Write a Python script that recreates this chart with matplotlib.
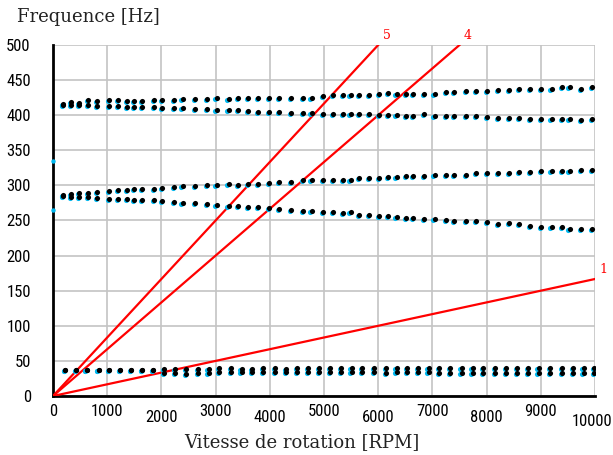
import matplotlib
matplotlib.use("Agg")
from matplotlib import pyplot as plt
from matplotlib import transforms
from matplotlib import font_manager

# shaft speed of each measured point [RPM]
rpm_high = [190, 330, 480, 650, 820, 1040, 1200, 1360, 1500, 1650,
            1870, 2020, 2230, 2390, 2620, 2840, 3020, 3240, 3420, 3600,
            3790, 3980, 4170, 4400, 4620, 4770, 4980, 5170, 5350, 5490,
            5650, 5830, 6020, 6190, 6340, 6510, 6650, 6850, 7040, 7260,
            7400, 7620, 7800, 8010, 8210, 8420, 8600, 8800, 9000, 9200,
            9390, 9530, 9740, 9950]

rpm_low = [220, 420, 620, 840, 1040, 1240, 1440, 1650, 1850, 2050,
           2250, 2450, 2670, 2870, 3070, 3280, 3480, 3680, 3880, 4100,
           4300, 4500, 4710, 4910, 5110, 5310, 5510, 5710, 5920, 6140,
           6340, 6540, 6740, 6930, 7130, 7330, 7540, 7740, 7940, 8160,
           8360, 8560, 8770, 8960, 9170, 9390, 9600, 9790, 9990]

# natural frequencies [Hz]
top_up = [415.5, 419, 417, 421.5, 420.5, 421.5, 421.5, 420.5, 420.5, 420.5,
          421.5, 421.5, 421.5, 422.5, 422.5, 422.5, 424, 422.5, 424, 424,
          424, 424, 425, 425, 425, 425, 427, 429, 429, 429,
          429, 429, 430, 431, 430, 430, 430, 430, 430, 433,
          433, 435, 435, 435, 436, 436, 437, 437, 437, 437,
          440, 440, 438, 440]

top_down = [414, 415, 414, 415, 413, 413, 413, 412, 411, 411,
            411, 410, 410, 410, 409, 409, 408, 407, 407, 406,
            405, 405, 404, 403, 403, 403, 402, 401, 401, 401,
            401, 401, 400, 400, 400, 399, 399, 401, 399, 399,
            399, 399, 399, 397, 396.5, 396.5, 396.5, 395, 395, 395,
            395, 395, 393, 395]

mid_up = [286, 288, 289, 289, 291, 291.5, 293, 294, 294.5, 295,
          295, 296, 298, 298.5, 298.5, 300, 300, 301.5, 300, 301.5,
          302, 303, 304.5, 305, 307, 307, 307, 308, 308, 308,
          310, 310, 311, 311.5, 312, 314, 314, 314, 315, 315,
          315, 315.5, 317, 317, 317, 317.5, 318.5, 318.5, 320.5, 320.5,
          320.5, 320.5, 322, 322]

mid_down = [285.5, 284, 284, 284, 282.5, 280, 280, 280, 279, 278.5,
            278.5, 277.5, 276.5, 275.5, 274.5, 274, 272, 270, 270, 269,
            269, 267.5, 266, 265, 263.5, 263.5, 262.5, 262, 260, 261.5,
            258.5, 258.5, 257, 256, 255.5, 253, 253, 252, 251.5, 250,
            249.5, 249, 249, 248, 245, 246, 244.5, 242.5, 241, 241,
            241, 238, 238, 238]

low_up = [37, 37, 37, 37, 37, 37, 37, 37, 37, 38.5,
          38.5, 38.5, 39, 39, 39.5, 39.5, 39, 39, 39.5, 39.5,
          39, 39.5, 39.5, 39.5, 39.5, 39.5, 39.5, 39.5, 40, 40,
          40, 40, 40, 40, 40.5, 40.5, 40, 40.5, 40.5, 40.5,
          40.5, 40.5, 40.5, 40.5, 40.5, 40.5, 40.5, 40.5, 40.5]

low_down = [37, 37, 37, 37, 37, 37, 37, 37, 37, 32.5,
            32.5, 32, 33, 33, 34, 34, 34, 34, 33.5, 33.5,
            34, 33.5, 33.5, 33.5, 33.5, 33.5, 33.5, 33.5, 33.5, 33,
            33.5, 33.5, 33.5, 33.5, 33, 33, 33, 33, 33, 33,
            33, 33, 33, 33, 33, 33, 32.5, 33, 32.5]

# stray points sitting on the frequency axis
axis_hz = [335, 265]

orders = [1, 4, 5]

x_ticks = [0, 1000, 2000, 3000, 4000, 5000, 6000, 7000, 8000, 9000, 10000]
y_ticks = [0, 50, 100, 150, 200, 250, 300, 350, 400, 450, 500]

LABEL_FONT = ["DejaVu Serif"]

# narrow digits: use a condensed face if one is installed
names = {f.name for f in font_manager.fontManager.ttflist}
narrow = [n for n in ("Liberation Sans Narrow", "DejaVu Sans Condensed",
                      "Roboto Condensed", "Open Sans Condensed") if n in names]
condensed = [f.fname for f in font_manager.fontManager.ttflist
             if f.name == "DejaVu Sans" and f.stretch in ("condensed", "semi-condensed")
             and f.weight in (400, "normal", "regular")]
if narrow:
    tick_props = dict(family=narrow[0], size=12)
elif condensed:
    tick_props = dict(fname=condensed[0], size=12)
else:
    tick_props = dict(family="Roboto", size=10.5)
tick_font = font_manager.FontProperties(**tick_props)

fig = plt.figure(figsize=(6.13, 4.55), dpi=100, facecolor="white")
ax = fig.add_axes([53 / 613, 59 / 455, 542 / 613, 351 / 455])

ax.set_xlim(0, 10000)
ax.set_ylim(0, 500)
ax.set_xticks(x_ticks)
ax.set_yticks(y_ticks)
ax.grid(True, color="#c4c4c4", lw=1.2)
ax.set_axisbelow(True)
for side in ("top", "right"):
    ax.spines[side].set_visible(False)
for side in ("left", "bottom"):
    ax.spines[side].set_linewidth(2.0)
    ax.spines[side].set_color("black")
ax.tick_params(length=0, labelbottom=False)
ax.tick_params(axis="y", pad=16)
for lab in ax.get_yticklabels():
    lab.set_fontproperties(tick_font)

# staggered x tick labels (odd thousands high, even thousands low)
for val in x_ticks:
    if val == 10000:
        dx, dy = -3, -25
    elif val % 2000 == 0 and val > 0:
        dx, dy = 0, -22
    else:
        dx, dy = 0, -16
    tr = transforms.offset_copy(ax.get_xaxis_transform(), fig=fig, x=dx, y=dy,
                                units="dots")
    ax.text(val, 0, str(val), transform=tr, ha="center", va="center",
            fontproperties=tick_font, clip_on=False)

# engine order lines
for k in orders:
    end = min(10000, 500 * 60 / k)
    ax.plot([0, end], [0, k * end / 60], color="#ff0000", lw=1.6, zorder=3)
    ax.annotate(str(k), xy=(end, k * end / 60), xytext=(6, 7),
                textcoords="offset points", ha="center", va="center",
                color="#ff0000", fontsize=9, family=LABEL_FONT,
                annotation_clip=False)

shadow = transforms.offset_copy(ax.transData, fig=fig, x=-1.2, y=-1.0, units="dots")
branches = [(rpm_high, top_up), (rpm_high, top_down), (rpm_high, mid_up),
            (rpm_high, mid_down), (rpm_low, low_up), (rpm_low, low_down)]
for xs, ys in branches:
    ax.plot(xs, ys, "o", ms=3.7, color="#00b8f0", mew=0, transform=shadow, zorder=4)
    ax.plot(xs, ys, "o", ms=3.7, color="black", mew=0, zorder=5)

ax.plot([0] * len(axis_hz), axis_hz, "o", ms=3.2, color="#00b8f0", mew=0,
        zorder=6, clip_on=False)

fig.text(17 / 613, 1 - 17 / 455, "Frequence [Hz]", family=LABEL_FONT,
         fontsize=13, ha="left", va="center", color="#222222")
fig.text(302 / 613, 1 - 442 / 455, "Vitesse de rotation [RPM]",
         family=LABEL_FONT, fontsize=13, ha="center", va="center",
         color="#222222")

fig.savefig("out.png", dpi=100, facecolor="white")
